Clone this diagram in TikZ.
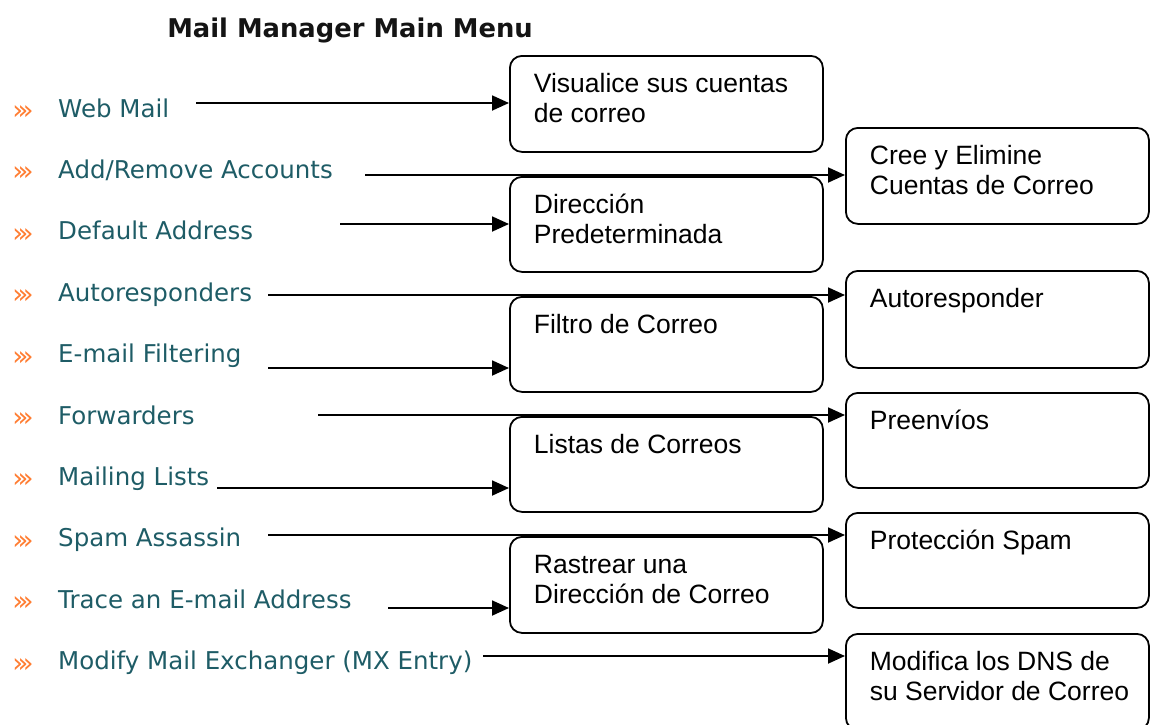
\documentclass[tikz,border=0pt]{standalone}
\usepackage{fontspec}
\setmainfont{Liberation Sans}
\newfontfamily\menufont{DejaVu Sans}
\usetikzlibrary{arrows.meta}
\definecolor{menuteal}{RGB}{30,92,102}
\definecolor{chevorange}{RGB}{255,125,50}
\definecolor{titleink}{RGB}{20,20,20}
\newcommand\bxt[3]{\parbox[b][#2][t]{#1}{\fontsize{26.5pt}{30pt}\selectfont\leftskip=24pt\rightskip=0pt plus 1fil\rule{0pt}{37pt}#3}}
\newcommand\chevs{›\kern-5.5pt›\kern-5.5pt›}
\tikzset{
  menuitem/.style={anchor=base west, inner sep=0pt, text=menuteal, font=\menufont\fontsize{24.5pt}{28pt}\selectfont},
  chevron/.style={anchor=center, inner sep=0pt, text=chevorange, font=\menufont\fontsize{27pt}{30pt}\selectfont},
  infobox/.style={anchor=north west, inner sep=0pt, draw=black, line width=1.8pt, rounded corners=12pt},
  arr/.style={line width=1.8pt, -{Triangle[length=17pt,width=15pt]}}
}
\begin{document}
\begin{tikzpicture}[x=1pt,y=-1pt]
\useasboundingbox (0,0) rectangle (1150,724);
\clip (0,0) rectangle (1150,724);
\node[anchor=base, inner sep=0pt, text=titleink, font=\menufont\bfseries\fontsize{25.8pt}{30pt}\selectfont] (title) at (350,37) {Mail Manager Main Menu};
% menu
\node[menuitem] (m1) at (58,117) {Web Mail};
\node[menuitem] (m2) at (58,178.4) {Add/Remove Accounts};
\node[menuitem] (m3) at (58,239.8) {Default Address};
\node[menuitem] (m4) at (58,301.2) {Autoresponders};
\node[menuitem] (m5) at (58,362.6) {E-mail Filtering};
\node[menuitem] (m6) at (58,424) {Forwarders};
\node[menuitem] (m7) at (58,485.4) {Mailing Lists};
\node[menuitem] (m8) at (58,546.8) {Spam Assassin};
\node[menuitem] (m9) at (58,608.2) {Trace an E-mail Address};
\node[menuitem] (m10) at (58,669.6) {Modify Mail Exchanger (MX Entry)};
\node[chevron] (c1) at (23,112.5) {\chevs};
\node[chevron] (c2) at (23,173.9) {\chevs};
\node[chevron] (c3) at (23,235.3) {\chevs};
\node[chevron] (c4) at (23,296.7) {\chevs};
\node[chevron] (c5) at (23,358.1) {\chevs};
\node[chevron] (c6) at (23,419.5) {\chevs};
\node[chevron] (c7) at (23,480.9) {\chevs};
\node[chevron] (c8) at (23,542.3) {\chevs};
\node[chevron] (c9) at (23,603.7) {\chevs};
\node[chevron] (c10) at (23,665.1) {\chevs};
% boxes left column
\node[infobox] (vis) at (509,55) {\bxt{313pt}{96pt}{Visualice sus cuentas\\de correo}};
\node[infobox] (dir) at (509,176) {\bxt{313pt}{95pt}{Dirección\\Predeterminada}};
\node[infobox] (fil) at (509,296) {\bxt{313pt}{95pt}{Filtro de Correo}};
\node[infobox] (lis) at (509,416) {\bxt{313pt}{95pt}{Listas de Correos}};
\node[infobox] (ras) at (509,536) {\bxt{313pt}{96pt}{Rastrear una\\Dirección de Correo}};
% boxes right column
\node[infobox] (cre) at (845,127) {\bxt{303pt}{96pt}{Cree y Elimine\\Cuentas de Correo}};
\node[infobox] (aut) at (845,270) {\bxt{303pt}{97pt}{Autoresponder}};
\node[infobox] (pre) at (845,392) {\bxt{303pt}{95pt}{Preenvíos}};
\node[infobox] (pro) at (845,512) {\bxt{303pt}{95pt}{Protección Spam}};
\node[infobox] (mod) at (845,633) {\bxt{303pt}{96pt}{Modifica los DNS de\\su Servidor de Correo}};
% arrow starts
\coordinate (s1) at (196,103);
\coordinate (s2) at (365,175);
\coordinate (s3) at (340,224);
\coordinate (s4) at (268,295);
\coordinate (s5) at (268,368);
\coordinate (s6) at (318,415);
\coordinate (s7) at (217,488);
\coordinate (s8) at (268,535);
\coordinate (s9) at (388,608);
\coordinate (s10) at (483,656);
\draw[arr] (s1) -- (s1 -| vis.west);
\draw[arr] (s2) -- (s2 -| cre.west);
\draw[arr] (s3) -- (s3 -| dir.west);
\draw[arr] (s4) -- (s4 -| aut.west);
\draw[arr] (s5) -- (s5 -| fil.west);
\draw[arr] (s6) -- (s6 -| pre.west);
\draw[arr] (s7) -- (s7 -| lis.west);
\draw[arr] (s8) -- (s8 -| pro.west);
\draw[arr] (s9) -- (s9 -| ras.west);
\draw[arr] (s10) -- (s10 -| mod.west);
\end{tikzpicture}
\end{document}
